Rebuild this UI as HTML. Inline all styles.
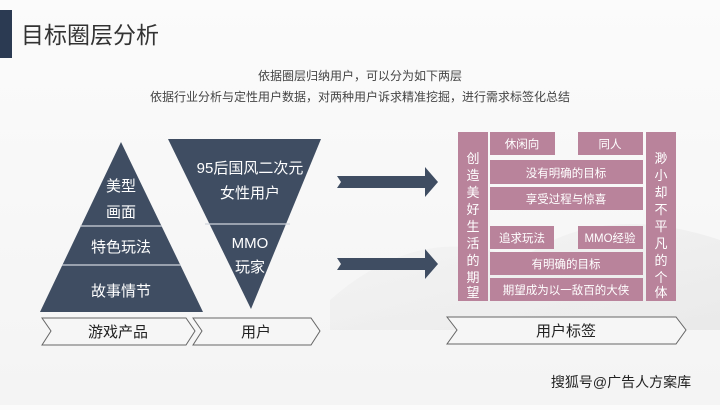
<!DOCTYPE html>
<html><head><meta charset="utf-8"><style>
html,body{margin:0;padding:0;}
body{width:720px;height:405px;overflow:hidden;background:linear-gradient(180deg,#fbfbfb,#f4f4f4);font-family:"Liberation Sans","Noto Sans CJK SC",sans-serif;}
svg text{font-family:"Liberation Sans","Noto Sans CJK SC",sans-serif;}
</style></head><body>
<svg width="720" height="405" viewBox="0 0 720 405" xmlns="http://www.w3.org/2000/svg">
<defs><linearGradient id="mt" x1="0" y1="0" x2="1" y2="1"><stop offset="0" stop-color="#f3f3f3"/><stop offset="1" stop-color="#e2e2e2"/></linearGradient></defs>
<path d="M330 300 Q420 220 520 260 Q600 200 720 240 L720 330 L330 330Z" fill="url(#mt)" opacity="0.6"/>
<rect x="0" y="10" width="12" height="48" fill="#2b3a52"/>
<text x="21" y="43" font-size="23" fill="#333">目标圈层分析</text>
<text x="360" y="80" font-size="12" fill="#444" text-anchor="middle">依据圈层归纳用户，可以分为如下两层</text>
<text x="360" y="101" font-size="12" fill="#444" text-anchor="middle">依据行业分析与定性用户数据，对两种用户诉求精准挖掘，进行需求标签化总结</text>
<!-- pyramid -->
<polygon points="121,142 40,312 203,312" fill="#3f4d62"/>
<line x1="80" y1="226" x2="162" y2="226" stroke="#cfd4dc" stroke-width="1.2"/>
<line x1="62" y1="265" x2="181" y2="265" stroke="#cfd4dc" stroke-width="1.2"/>
<g fill="#fff" font-size="15" text-anchor="middle">
<text x="121" y="191">美型</text><text x="121" y="217">画面</text>
<text x="121" y="252">特色玩法</text><text x="121" y="296">故事情节</text>
</g>
<polygon points="168,139 321,139 251,309" fill="#3f4d62"/>
<line x1="205" y1="224" x2="290" y2="224" stroke="#cfd4dc" stroke-width="1.2"/>
<g fill="#fff" font-size="15" text-anchor="middle">
<text x="250" y="173">95后国风二次元</text><text x="250" y="198">女性用户</text>
<text x="250" y="248">MMO</text><text x="250" y="272">玩家</text>
</g>
<!-- chevrons -->
<g fill="#f6f6f6" stroke="#666" stroke-width="1">
<polygon points="42,318 186,318 195,331 186,345 42,345 51,331"/>
<polygon points="193,318 311,318 320,331 311,345 193,345 202,331"/>
<polygon points="447,317 676,317 686,330 676,344 447,344 457,330"/>
</g>
<g font-size="15" fill="#222" text-anchor="middle">
<text x="118" y="337">游戏产品</text><text x="256" y="337">用户</text><text x="566" y="336">用户标签</text>
</g>
<!-- arrows -->
<g fill="#3f4d62">
<polygon points="337,176 425,176 425,167 438,182 425,197 425,188 337,188 341,182"/>
<polygon points="337,258 425,258 425,249 438,264 425,279 425,270 337,270 341,264"/>
</g>
<!-- pink panel -->
<g fill="#b9839b">
<rect x="458" y="132" width="30" height="169"/>
<rect x="646" y="132" width="30" height="169"/>
<rect x="490" y="132" width="65" height="23"/>
<rect x="578" y="132" width="65" height="23"/>
<rect x="490" y="160" width="153" height="24"/>
<rect x="490" y="187" width="153" height="23"/>
<rect x="490" y="226" width="64" height="23"/>
<rect x="578" y="226" width="65" height="23"/>
<rect x="490" y="252" width="153" height="23"/>
<rect x="490" y="278" width="153" height="23"/>
</g>
<g fill="#fff" font-size="11.5" text-anchor="middle">
<text x="522" y="148">休闲向</text><text x="610" y="148">同人</text>
<text x="566" y="177">没有明确的目标</text><text x="566" y="203">享受过程与惊喜</text>
<text x="522" y="242">追求玩法</text><text x="610" y="242">MMO经验</text>
<text x="566" y="268">有明确的目标</text><text x="566" y="294">期望成为以一敌百的大侠</text>
</g>
<g fill="#fff" font-size="13" text-anchor="middle">
<text x="473" y="163">创</text><text x="473" y="180">造</text><text x="473" y="197">美</text><text x="473" y="214">好</text><text x="473" y="231">生</text><text x="473" y="248">活</text><text x="473" y="265">的</text><text x="473" y="282">期</text><text x="473" y="297">望</text>
<text x="661" y="163">渺</text><text x="661" y="180">小</text><text x="661" y="197">却</text><text x="661" y="214">不</text><text x="661" y="231">平</text><text x="661" y="248">凡</text><text x="661" y="265">的</text><text x="661" y="282">个</text><text x="661" y="297">体</text>
</g>
<text x="621" y="387" font-size="14" fill="#222" text-anchor="middle">搜狐号@广告人方案库</text>
</svg>
</body></html>
